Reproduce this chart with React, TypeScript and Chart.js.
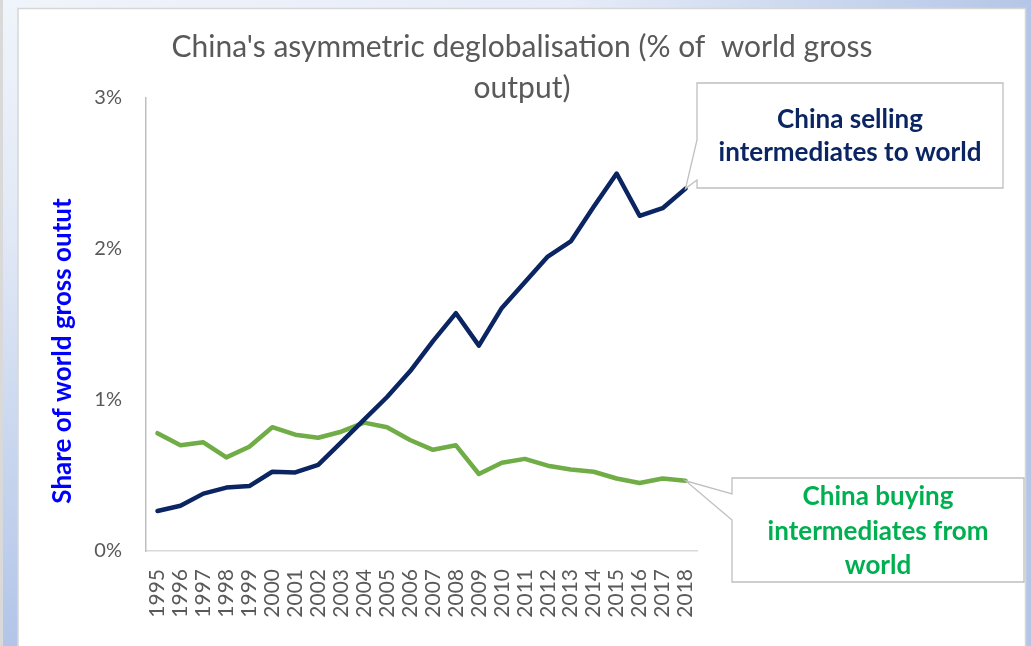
import React, { useEffect, useRef } from "react";
import { Chart, registerables } from "chart.js";

Chart.register(...registerables);

const years = [
  "1995", "1996", "1997", "1998", "1999", "2000", "2001", "2002", "2003", "2004", "2005", "2006",
  "2007", "2008", "2009", "2010", "2011", "2012", "2013", "2014", "2015", "2016", "2017", "2018",
];
// % of world gross output
const sellingToWorld = [
  0.265, 0.3, 0.38, 0.42, 0.43, 0.525, 0.52, 0.57, 0.72, 0.87, 1.02, 1.19,
  1.39, 1.575, 1.36, 1.61, 1.78, 1.95, 2.05, 2.28, 2.5, 2.22, 2.27, 2.4,
];
const buyingFromWorld = [
  0.78, 0.7, 0.72, 0.62, 0.69, 0.82, 0.77, 0.75, 0.79, 0.85, 0.82, 0.735,
  0.67, 0.7, 0.51, 0.585, 0.61, 0.565, 0.54, 0.525, 0.48, 0.45, 0.48, 0.465,
];
const yTickValues = [0, 1, 2, 3];
const titleLines = ["China's asymmetric deglobalisation (% of  world gross", "output)"];
const yAxisTitle = "Share of world gross outut";
const sellingCallout = ["China selling", "intermediates to world"];
const buyingCallout = ["China buying", "intermediates from", "world"];

const FONT = "Lato, 'Open Sans', sans-serif";
const NAVY = "#0b2562";
const GREEN = "#70ad47";
const CALLOUT_GREEN = "#00b050";
const GREY_TEXT = "#595959";

const backgroundPlugin = {
  id: "slideBackground",
  beforeDraw(chart: any) {
    const { ctx, width, height } = chart;
    ctx.save();
    ctx.fillStyle = "#b4c6e7";
    ctx.fillRect(0, 0, width, height);
    const gl = ctx.createLinearGradient(0, 0, 0, height);
    gl.addColorStop(0, "#f0f4fb");
    gl.addColorStop(0.35, "#e2e9f6");
    gl.addColorStop(1, "#b2c5e8");
    ctx.fillStyle = gl;
    ctx.fillRect(0, 0, 18, height);
    const gt = ctx.createLinearGradient(0, 0, width, 0);
    gt.addColorStop(0, "#f0f4fb");
    gt.addColorStop(0.55, "#e6ecf8");
    gt.addColorStop(1, "#b4c6e7");
    ctx.fillStyle = gt;
    ctx.fillRect(18, 0, width - 18, 8);
    ctx.fillStyle = "#d9d9d9";
    ctx.fillRect(0, 0, 3, height);
    ctx.fillStyle = "#ffffff";
    ctx.fillRect(18, 8, 1008, height);
    ctx.strokeStyle = "#d6d6d6";
    ctx.lineWidth = 1.5;
    ctx.beginPath();
    ctx.moveTo(18, height);
    ctx.lineTo(18, 8.5);
    ctx.lineTo(1025.5, 8.5);
    ctx.lineTo(1025.5, height);
    ctx.stroke();
    ctx.restore();
  },
};

const textPlugin = {
  id: "texts",
  afterDraw(chart: any) {
    const { ctx } = chart;
    ctx.save();
    ctx.font = `normal 30px ${FONT}`;
    ctx.fillStyle = GREY_TEXT;
    ctx.textAlign = "center";
    ctx.textBaseline = "middle";
    titleLines.forEach((ln, i) => ctx.fillText(ln, 522, 47 + i * 41));
    ctx.restore();

    ctx.save();
    ctx.translate(63, 351);
    ctx.rotate(-Math.PI / 2);
    ctx.font = `bold 26px ${FONT}`;
    ctx.fillStyle = "#0000ff";
    ctx.textAlign = "center";
    ctx.textBaseline = "middle";
    ctx.fillText(yAxisTitle, 0, 0);
    ctx.restore();
  },
};

function drawCallout(
  ctx: any,
  box: { l: number; t: number; r: number; b: number },
  wedge: [number, number],
  tip: { x: number; y: number },
  lines: string[],
  color: string,
  firstLineY: number,
  lineGap: number
) {
  ctx.save();
  ctx.beginPath();
  ctx.moveTo(box.l, box.t);
  ctx.lineTo(box.r, box.t);
  ctx.lineTo(box.r, box.b);
  ctx.lineTo(box.l, box.b);
  ctx.lineTo(box.l, wedge[1]);
  ctx.lineTo(tip.x, tip.y);
  ctx.lineTo(box.l, wedge[0]);
  ctx.closePath();
  ctx.fillStyle = "#ffffff";
  ctx.fill();
  ctx.strokeStyle = "#bfbfbf";
  ctx.lineWidth = 1.3;
  ctx.stroke();
  ctx.font = `bold 26px ${FONT}`;
  ctx.fillStyle = color;
  ctx.textAlign = "center";
  ctx.textBaseline = "middle";
  const cx = (box.l + box.r) / 2;
  lines.forEach((ln, i) => ctx.fillText(ln, cx, firstLineY + i * lineGap));
  ctx.restore();
}

const calloutPlugin = {
  id: "callouts",
  afterDatasetsDraw(chart: any) {
    const { ctx } = chart;
    const m0 = chart.getDatasetMeta(0).data;
    const m1 = chart.getDatasetMeta(1).data;
    const tip0 = m0[m0.length - 1];
    const tip1 = m1[m1.length - 1];
    drawCallout(ctx, { l: 697, t: 83, r: 1003, b: 188 }, [140, 180], { x: tip0.x, y: tip0.y }, sellingCallout, NAVY, 120, 33);
    drawCallout(ctx, { l: 732, t: 478, r: 1024, b: 582 }, [494, 520], { x: tip1.x, y: tip1.y }, buyingCallout, CALLOUT_GREEN, 497, 34.5);
  },
};

export default function App() {
  const ref = useRef<HTMLCanvasElement | null>(null);
  useEffect(() => {
    if (!ref.current) return;
    const chart = new Chart(ref.current, {
      type: "line",
      data: {
        labels: years,
        datasets: [
          {
            label: "China selling intermediates to world",
            data: sellingToWorld,
            borderColor: NAVY,
            backgroundColor: NAVY,
            borderWidth: 4.5,
            pointRadius: 0,
            tension: 0,
            borderJoinStyle: "round",
            borderCapStyle: "round",
          },
          {
            label: "China buying intermediates from world",
            data: buyingFromWorld,
            borderColor: GREEN,
            backgroundColor: GREEN,
            borderWidth: 4.5,
            pointRadius: 0,
            tension: 0,
            borderJoinStyle: "round",
            borderCapStyle: "round",
          },
        ],
      },
      options: {
        responsive: false,
        animation: false,
        layout: { padding: { top: 98, left: 0, right: 334, bottom: 0 } },
        plugins: {
          legend: { display: false },
          tooltip: { enabled: false },
          title: { display: false },
        },
        scales: {
          x: {
            type: "category",
            offset: true,
            grid: { display: false, drawTicks: false },
            border: { display: true, color: "#d9d9d9", width: 1.5 },
            ticks: {
              color: GREY_TEXT,
              font: { family: FONT, size: 21 },
              minRotation: 90,
              maxRotation: 90,
              autoSkip: false,
              padding: 18,
            },
            afterFit: (s: any) => {
              s.height = 95;
            },
          },
          y: {
            min: 0,
            max: 3,
            afterBuildTicks: (s: any) => {
              s.ticks = yTickValues.map((v) => ({ value: v }));
            },
            grid: { display: false, drawTicks: false },
            border: { display: true, color: "#bfbfbf", width: 1.5 },
            ticks: {
              color: GREY_TEXT,
              font: { family: FONT, size: 20 },
              padding: 24,
              callback: (v: any) => `${v}%`,
            },
            afterFit: (s: any) => {
              s.width = 146;
            },
          },
        },
      },
      plugins: [backgroundPlugin, calloutPlugin, textPlugin],
    } as any);
    return () => chart.destroy();
  }, []);
  return (
    <canvas
      ref={ref}
      width={1031}
      height={646}
      style={{ position: "fixed", left: 0, top: 0, width: 1031, height: 646, display: "block" }}
    />
  );
}
